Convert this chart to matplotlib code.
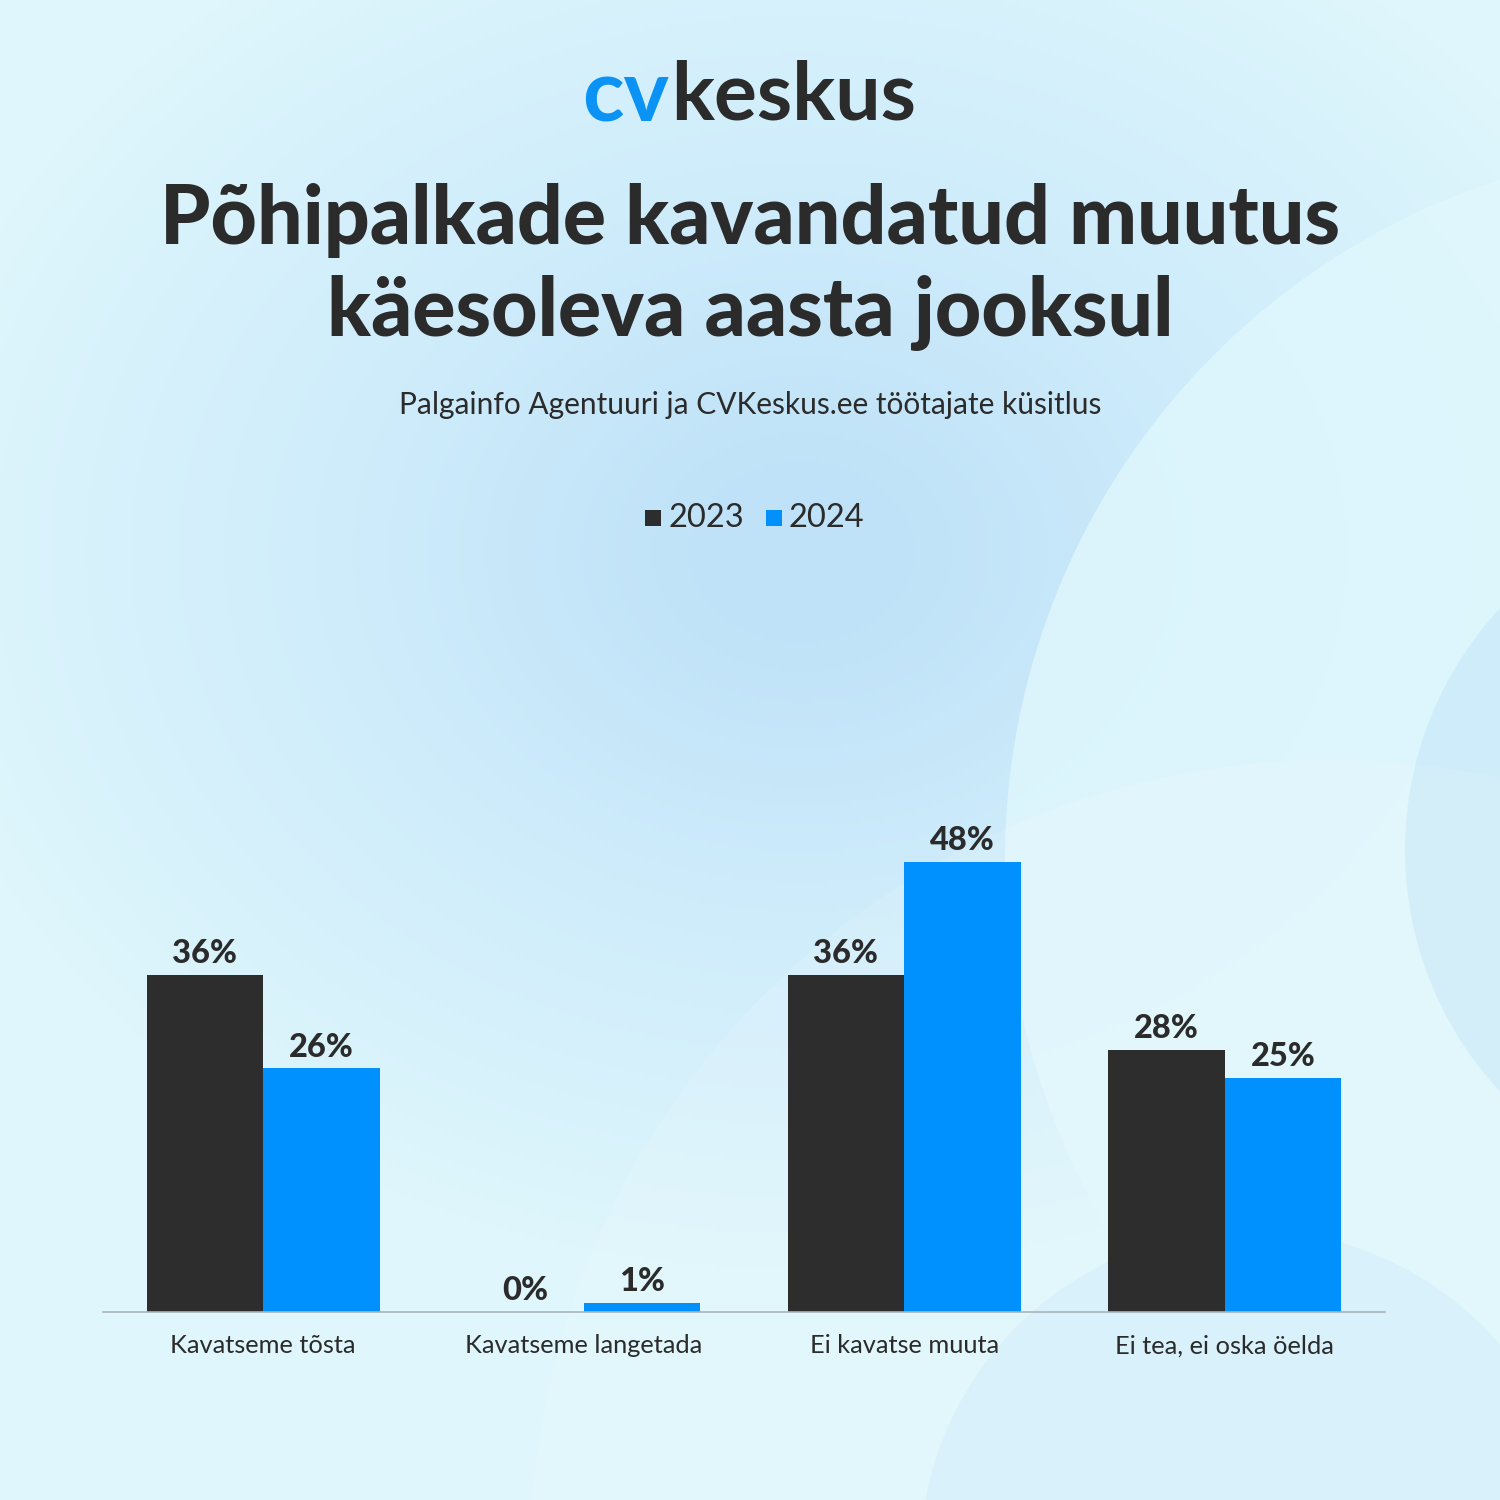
import numpy as np
import matplotlib.pyplot as plt
from matplotlib.patches import Circle, Rectangle
from matplotlib.colors import LinearSegmentedColormap

# ---------- data ----------
categories = ['Kavatseme tõsta', 'Kavatseme langetada', 'Ei kavatse muuta', 'Ei tea, ei oska öelda']
years = ['2023', '2024']
vals_2023 = [36, 0, 36, 28]
vals_2024 = [26, 1, 48, 25]

title = 'Põhipalkade kavandatud muutus\nkäesoleva aasta jooksul'
subtitle = 'Palgainfo Agentuuri ja CVKeskus.ee töötajate küsitlus'

# ---------- style ----------
c_dark = '#2d2d2d'
c_blue = '#0091ff'
c_text = '#2b2b2b'
plt.rcParams['font.family'] = ['Lato', 'DejaVu Sans']

fig = plt.figure(figsize=(15, 15), dpi=100)

def fx(px):
    return px / 1500

def fy(py):
    return 1 - py / 1500

# background
bg = fig.add_axes([0, 0, 1, 1], zorder=0)
bg.set_xlim(0, 1500)
bg.set_ylim(1500, 0)
bg.axis('off')
yy, xx = np.mgrid[0:1500:4, 0:1500:4]
d = np.hypot((xx - 800) / 1500, (yy - 550) / 1200)
cmap = LinearSegmentedColormap.from_list('bg', ['#bfe2f8', '#d0edfb', '#def6fc'])
bg.imshow(d, cmap=cmap, extent=(0, 1500, 1500, 0), vmin=0.05, vmax=0.6, aspect='auto')
bg.add_patch(Circle((1720, 860), 715, facecolor='#dff7fd', edgecolor='none', alpha=0.85))
bg.add_patch(Circle((1760, 850), 355, facecolor='#c9e9f8', edgecolor='none', alpha=0.7))
bg.add_patch(Circle((1330, 1560), 800, facecolor='#ffffff', edgecolor='none', alpha=0.12))
bg.add_patch(Circle((1250, 1560), 330, facecolor='#c8e7f8', edgecolor='none', alpha=0.35))

# logo
fig.text(fx(582), fy(97), 'cv', ha='left', va='center', fontsize=62, weight='bold',
         color='#0a93f5')
fig.text(fx(671), fy(97), 'keskus', ha='left', va='center', fontsize=58,
         weight='bold', color=c_text)

# title + subtitle
fig.text(0.5, fy(267), title, ha='center', va='center', fontsize=58,
         weight='black', color=c_text, linespacing=1.28)
fig.text(0.5, fy(405), subtitle, ha='center', va='center', fontsize=21.5, color=c_text)

# legend
leg_y = fy(518)
fig.patches.append(Rectangle((fx(645), leg_y - fx(8)), fx(16), fx(16),
                             transform=fig.transFigure, facecolor=c_dark, edgecolor='none'))
fig.text(fx(668), leg_y, years[0], ha='left', va='center', fontsize=23.5, color=c_text)
fig.patches.append(Rectangle((fx(766), leg_y - fx(8)), fx(16), fx(16),
                             transform=fig.transFigure, facecolor=c_blue, edgecolor='none'))
fig.text(fx(789), leg_y, years[1], ha='left', va='center', fontsize=23.5, color=c_text)

# chart
ax = fig.add_axes([fx(103), fx(188), fx(1282), fx(562)], zorder=2)
ax.patch.set_alpha(0)
x = np.arange(len(categories))
w = 0.3635
b1 = ax.bar(x - w / 2, vals_2023, w, color=c_dark, linewidth=0)
b2 = ax.bar(x + w / 2, vals_2024, w, color=c_blue, linewidth=0)
for bars, vals in ((b1, vals_2023), (b2, vals_2024)):
    for r, v in zip(bars, vals):
        ax.annotate(f'{v}%', (r.get_x() + r.get_width() / 2, v), xytext=(0, 5),
                    textcoords='offset points', ha='center', va='bottom',
                    fontsize=23.5, weight='black', color=c_text)

ax.set_xlim(-0.5, len(categories) - 0.5)
ax.set_ylim(0, 60)
ax.set_yticks([])
ax.set_xticks(x)
ax.set_xticklabels(categories, fontsize=18.3, color=c_text)
ax.tick_params(axis='x', length=0, pad=16)
for s in ['top', 'right', 'left']:
    ax.spines[s].set_visible(False)
ax.spines['bottom'].set_color('#a9b4bb')
ax.spines['bottom'].set_linewidth(1.2)

plt.savefig('out.png', dpi=100)
